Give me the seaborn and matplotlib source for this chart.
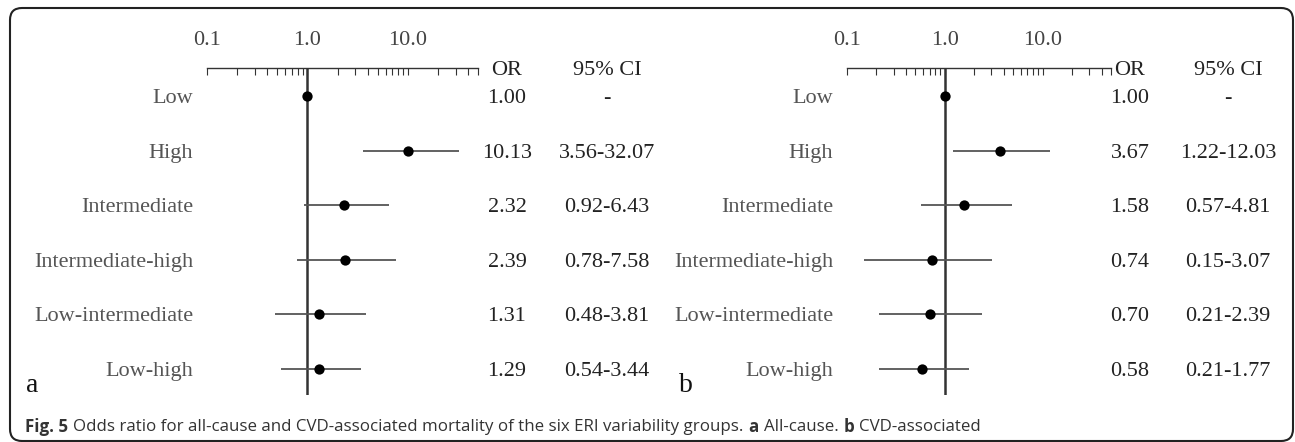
import numpy as np
import matplotlib
matplotlib.use("Agg")
import matplotlib.pyplot as plt
import seaborn as sns
from matplotlib.patches import FancyBboxPatch
from matplotlib.transforms import IdentityTransform
from matplotlib.ticker import FixedLocator, NullFormatter

# groups (top to bottom)
groups = ["Low", "High", "Intermediate", "Intermediate-high", "Low-intermediate", "Low-high"]

# a: all-cause
or_a = [1.00, 10.13, 2.32, 2.39, 1.31, 1.29]
lo_a = [np.nan, 3.56, 0.92, 0.78, 0.48, 0.54]
hi_a = [np.nan, 32.07, 6.43, 7.58, 3.81, 3.44]

# b: CVD-associated
or_b = [1.00, 3.67, 1.58, 0.74, 0.70, 0.58]
lo_b = [np.nan, 1.22, 0.57, 0.15, 0.21, 0.21]
hi_b = [np.nan, 12.03, 4.81, 3.07, 2.39, 1.77]

major_ticks = [0.1, 1, 10]
major_labels = ["0.1", "1.0", "10.0"]
minor_ticks = [0.2, 0.3, 0.4, 0.5, 0.6, 0.7, 0.8, 0.9,
               2, 3, 4, 5, 6, 7, 8, 9, 20, 30, 40, 50]

sns.set_style("white")
plt.rcParams["font.family"] = ["Liberation Serif", "DejaVu Serif"]

W, H = 1295, 442
fig = plt.figure(figsize=(W / 100, H / 100), dpi=100)

serif_gray = "#555555"
ink = "#222222"
FS = 16


def forest(ax, ors, los, his, letter, or_x, ci_x, letter_x):
    rows = np.arange(len(groups))
    ax.set_xscale("log")
    ax.set_xlim(0.1, 50)
    ax.set_ylim(5.476, -0.513)

    ax.axvline(1, color="#333333", lw=1.8, zorder=1)
    lo = np.array(los)
    hi = np.array(his)
    ok = ~np.isnan(lo)
    ax.hlines(rows[ok], lo[ok], hi[ok], color="#555555", lw=1.3, zorder=2)
    sns.scatterplot(x=ors, y=rows, ax=ax, color="black", s=55,
                    edgecolor="black", linewidth=0, zorder=3, legend=False)

    for s in ["left", "right", "bottom"]:
        ax.spines[s].set_visible(False)
    ax.spines["top"].set_color("#333333")
    ax.spines["top"].set_linewidth(1.0)

    ax.xaxis.tick_top()
    ax.xaxis.set_major_locator(FixedLocator(major_ticks))
    ax.xaxis.set_minor_locator(FixedLocator(minor_ticks))
    ax.set_xticklabels(major_labels)
    ax.xaxis.set_minor_formatter(NullFormatter())
    ax.tick_params(axis="x", which="both", direction="in", length=5,
                   width=0.8, color="#333333", top=True, bottom=False,
                   labeltop=True, labelbottom=False, pad=13,
                   labelsize=FS, labelcolor="#444444")
    ax.set_yticks(rows)
    ax.set_yticklabels(groups)
    ax.tick_params(axis="y", length=0, pad=10, labelsize=FS, labelcolor=serif_gray)
    ax.set_xlabel("")
    ax.set_ylabel("")

    # OR / CI columns
    tr = matplotlib.transforms.blended_transform_factory(fig.transFigure, ax.transData)
    y_head = -0.513
    ax.text(or_x, y_head, "OR", transform=tr, ha="center", va="center_baseline",
            fontsize=FS, color=ink, clip_on=False)
    ax.text(ci_x, y_head, "95% CI", transform=tr, ha="center", va="center_baseline",
            fontsize=FS, color=ink, clip_on=False)
    for r, v, l, h in zip(rows, ors, los, his):
        ax.text(or_x, r, f"{v:.2f}", transform=tr, ha="center", va="center_baseline",
                fontsize=FS, color=ink, clip_on=False)
        ci = "-" if np.isnan(l) else f"{l:.2f}-{h:.2f}"
        ax.text(ci_x, r, ci, transform=tr, ha="center", va="center_baseline",
                fontsize=FS, color=ink, clip_on=False)

    fig.text(letter_x, 1 - 385 / H, letter, ha="center", va="center",
             fontsize=20, color="#111111")


ax_a = fig.add_axes([207 / W, 1 - 395 / H, 271 / W, 327 / H])
ax_b = fig.add_axes([847 / W, 1 - 395 / H, 264 / W, 327 / H])
forest(ax_a, or_a, lo_a, hi_a, "a", 507 / W, 607 / W, 32 / W)
forest(ax_b, or_b, lo_b, hi_b, "b", 1130 / W, 1228 / W, 686 / W)

# caption
CFS = 12.2
cap_font = ["Open Sans", "DejaVu Sans"]
cap = fig.text(25 / W, 1 - 427 / H, "Fig. 5", ha="left", va="center",
               fontsize=CFS, fontweight="bold", color="#333333", family=cap_font)
fig.canvas.draw()
x = cap.get_window_extent().x1 + 5
for word, bold in [("Odds ratio for all-cause and CVD-associated mortality of the six ERI variability groups.", False),
                   ("a", True), ("All-cause.", False), ("b", True), ("CVD-associated", False)]:
    t = fig.text(x / W, 1 - 427 / H, word, ha="left", va="center", fontsize=CFS,
                 fontweight="bold" if bold else "normal", color="#333333",
                 family=cap_font)
    fig.canvas.draw()
    x = t.get_window_extent().x1 + 5

# rounded frame
frame = FancyBboxPatch((10, 1), 1283, 433, boxstyle="round,pad=0,rounding_size=12",
                       transform=IdentityTransform(), fill=False,
                       edgecolor="#222222", lw=1.5)
fig.patches.append(frame)

fig.savefig("out.png", dpi=100)
